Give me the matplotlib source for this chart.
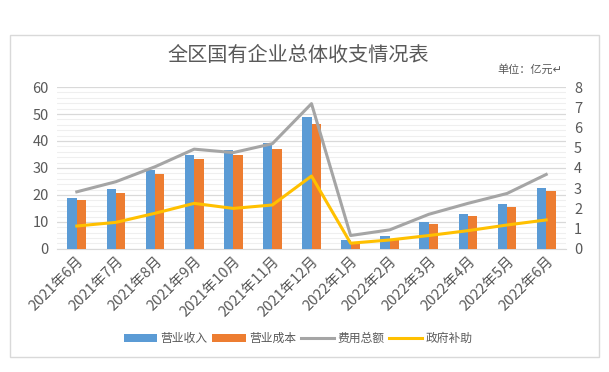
import matplotlib
matplotlib.use("Agg")
import matplotlib.pyplot as plt
import numpy as np
from matplotlib.patches import Rectangle
from matplotlib.ticker import MultipleLocator

plt.rcParams['font.family'] = ['Noto Sans CJK SC', 'DejaVu Sans']

# data (亿元)
months = ["2021年6月", "2021年7月", "2021年8月", "2021年9月", "2021年10月",
          "2021年11月", "2021年12月", "2022年1月", "2022年2月", "2022年3月",
          "2022年4月", "2022年5月", "2022年6月"]
revenue = [19.0, 22.3, 29.4, 34.8, 36.5, 39.3, 48.9, 3.3, 4.6, 9.8, 13.0, 16.8, 22.7]
cost = [18.1, 20.7, 27.8, 33.3, 34.8, 37.0, 46.3, 2.5, 3.7, 9.4, 12.2, 15.7, 21.6]
expense = [2.82, 3.32, 4.06, 4.93, 4.76, 5.20, 7.18, 0.66, 0.94, 1.71, 2.25, 2.74, 3.68]
subsidy = [1.13, 1.31, 1.76, 2.25, 2.00, 2.17, 3.60, 0.28, 0.44, 0.66, 0.90, 1.18, 1.43]

BLUE = "#5B9BD5"
ORANGE = "#ED7D31"
GRAY = "#A5A5A5"
YELLOW = "#FFC000"
TXT = "#595959"

fig = plt.figure(figsize=(6.09, 3.72), dpi=100)
fig.patches.append(Rectangle((0.017, 0.04), 0.966, 0.865, transform=fig.transFigure,
                             fill=False, edgecolor="#D9D9D9", linewidth=1))

ax = fig.add_axes([0.094, 0.331, 0.835, 0.435])
x = np.arange(len(months))
w = 0.24
ax.bar(x - w / 2, revenue, w, color=BLUE, label="营业收入", zorder=3)
ax.bar(x + w / 2, cost, w, color=ORANGE, label="营业成本", zorder=3)
ax.set_ylim(0, 60)
ax.set_xlim(-0.5, len(months) - 0.5)
ax.yaxis.set_major_locator(MultipleLocator(10))
ax.yaxis.set_minor_locator(MultipleLocator(2))
ax.grid(axis="y", which="major", color="#D9D9D9", linewidth=0.9, zorder=0)
ax.grid(axis="y", which="minor", color="#EFEFEF", linewidth=0.8, zorder=0)

ax2 = ax.twinx()
ax2.plot(x, expense, color=GRAY, linewidth=2.2, label="费用总额", zorder=4)
ax2.plot(x, subsidy, color=YELLOW, linewidth=2.2, label="政府补助", zorder=4)
ax2.set_ylim(0, 8)
ax2.yaxis.set_major_locator(MultipleLocator(1))

for a in (ax, ax2):
    for s in a.spines.values():
        s.set_visible(False)
    a.tick_params(axis="y", which="both", length=0, labelsize=10.5, labelcolor=TXT, pad=6)
ax.spines["bottom"].set_visible(True)
ax.spines["bottom"].set_color("#D9D9D9")

ax.set_xticks(x)
ax.set_xticklabels(months, rotation=45, ha="right", rotation_mode="anchor",
                   fontsize=10.5, color=TXT)
ax.tick_params(axis="x", length=0, pad=4)

fig.text(0.49, 0.852, "全区国有企业总体收支情况表", ha="center", va="center",
         fontsize=14.5, color=TXT)
fig.text(0.87, 0.812, "单位：亿元↵", ha="center", va="center", fontsize=8, color=TXT)

h1, l1 = ax.get_legend_handles_labels()
h2, l2 = ax2.get_legend_handles_labels()
fig.legend(h1 + h2, l1 + l2, loc="center", bbox_to_anchor=(0.49, 0.09), ncol=4,
           frameon=False, fontsize=8.5, labelcolor=TXT, handlelength=2.8,
           handletextpad=0.3, columnspacing=0.4)

fig.savefig("out.png", dpi=100)
